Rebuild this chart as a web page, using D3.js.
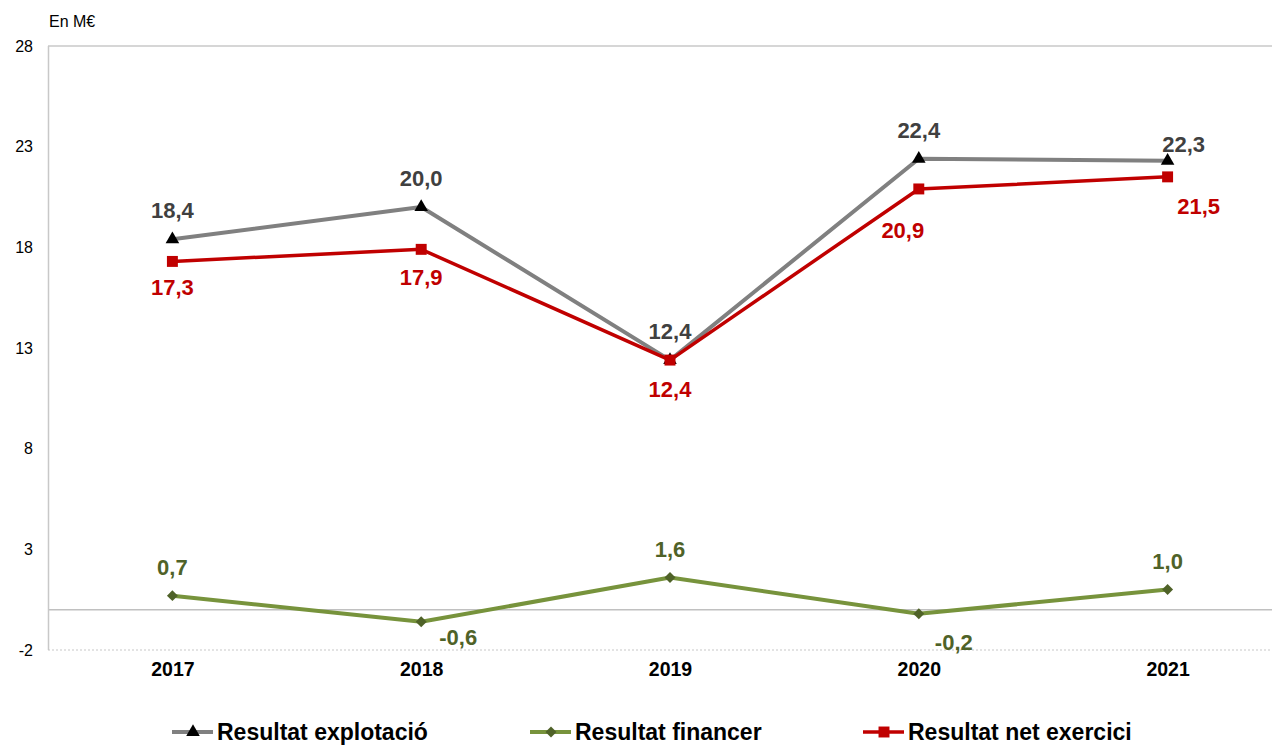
<!DOCTYPE html>
<html><head><meta charset="utf-8">
<script src="https://cdn.jsdelivr.net/npm/d3@7"></script>
<style>html,body{margin:0;padding:0;background:#fff;overflow:hidden}</style>
</head><body>
<svg id="c" width="1272" height="745"></svg>
<script>
const years = ["2017","2018","2019","2020","2021"];
const explotacio = [18.4, 20.0, 12.4, 22.4, 22.3];
const financer = [0.7, -0.6, 1.6, -0.2, 1.0];
const netExercici = [17.3, 17.9, 12.4, 20.9, 21.5];
const yTicks = [-2, 3, 8, 13, 18, 23, 28];
const seriesNames = ["Resultat explotació", "Resultat financer", "Resultat net exercici"];
const unitLabel = "En M€";

const svg = d3.select("#c");
const x = d3.scalePoint().domain(years).range([48, 1292]).padding(0.5);
const y = d3.scaleLinear().domain([-2, 28]).range([650, 46]);
const fmt = v => d3.format(".1f")(v).replace(".", ",").replace("\u2212", "-");
const FONT = "Liberation Sans, Arial, sans-serif";

// frame lines
svg.append("line").attr("x1", 48).attr("x2", 1272).attr("y1", y(28)).attr("y2", y(28))
  .attr("stroke", "#c8c8c8").attr("stroke-width", 1.5);
svg.append("line").attr("x1", 48).attr("x2", 1272).attr("y1", y(-2)).attr("y2", y(-2))
  .attr("stroke", "#c8c8c8").attr("stroke-width", 1.2).attr("stroke-dasharray", "2,2");
svg.append("line").attr("x1", 48).attr("x2", 1272).attr("y1", y(0)).attr("y2", y(0))
  .attr("stroke", "#c0c0c0").attr("stroke-width", 1.5);
svg.append("line").attr("x1", 48.5).attr("x2", 48.5).attr("y1", y(28)).attr("y2", y(-2))
  .attr("stroke", "#c8c8c8").attr("stroke-width", 1.5);

// y axis
const yAxis = d3.axisLeft(y).tickValues(yTicks).tickSize(0).tickPadding(0).tickFormat(d => d);
const ya = svg.append("g").attr("transform", "translate(33,0)").call(yAxis);
ya.select(".domain").remove();
ya.selectAll("text").attr("font-family", FONT).attr("font-size", 16).attr("fill", "#000");

// x axis
const xAxis = d3.axisBottom(x).tickSize(0).tickPadding(0);
const xa = svg.append("g").attr("transform", "translate(0,662)").call(xAxis);
xa.select(".domain").remove();
xa.selectAll("text").attr("font-family", FONT)
  .attr("font-size", 19.5).attr("font-weight", "bold").attr("fill", "#000");

svg.append("text").attr("x", 49).attr("y", 27).text(unitLabel)
  .attr("font-family", FONT).attr("font-size", 16).attr("fill", "#000");

const series = [
  {name: seriesNames[0], values: explotacio, line: "#808080", mark: "#000000", label: "#404040", width: 4, shape: "tri",
   off: [[0,-21],[0,-21],[0,-21],[0,-21],[16,-9]]},
  {name: seriesNames[1], values: financer, line: "#77933C", mark: "#4F6228", label: "#4F6228", width: 4, shape: "dia",
   off: [[0,-21],[37,23],[0,-21],[35,36],[0,-21]]},
  {name: seriesNames[2], values: netExercici, line: "#C00000", mark: "#C00000", label: "#C00000", width: 3.5, shape: "sq",
   off: [[0,34],[0,36],[0,37],[-16,49],[31,37]]}
];

const line = d3.line().x((d, i) => x(years[i])).y(d => y(d));
const sym = {tri: d3.symbolTriangle, dia: d3.symbolSquare, sq: d3.symbolSquare};
const symSize = {tri: 80, dia: 60, sq: 120};
const rot = s => s.shape === "dia" ? " rotate(45)" : "";

function drawSeries(s) {
  svg.append("path").datum(s.values).attr("d", line).attr("fill", "none")
    .attr("stroke", s.line).attr("stroke-width", s.width).attr("stroke-linejoin", "round");
}
function drawMarks(s) {
  svg.selectAll(null).data(s.values).enter().append("path")
    .attr("d", d3.symbol().type(sym[s.shape]).size(symSize[s.shape]))
    .attr("transform", (d, i) => `translate(${x(years[i])},${y(d)})` + rot(s))
    .attr("fill", s.mark);
  svg.selectAll(null).data(s.values).enter().append("text")
    .attr("x", (d, i) => x(years[i]) + s.off[i][0])
    .attr("y", (d, i) => y(d) + s.off[i][1])
    .attr("text-anchor", "middle")
    .attr("font-family", FONT).attr("font-size", 22).attr("font-weight", "bold")
    .attr("fill", s.label).text(d => fmt(d));
}
[series[1], series[0], series[2]].forEach(drawSeries);
[series[1], series[0], series[2]].forEach(drawMarks);

// legend
const legendX = [172, 530, 863];
series.forEach((s, i) => {
  const g = svg.append("g").attr("transform", `translate(${legendX[i]},732)`);
  g.append("line").attr("x1", 0).attr("x2", 41).attr("y1", 0).attr("y2", 0)
    .attr("stroke", s.line).attr("stroke-width", s.width);
  g.append("path").attr("d", d3.symbol().type(sym[s.shape]).size(symSize[s.shape]))
    .attr("transform", `translate(21,0)` + rot(s)).attr("fill", s.mark);
  g.append("text").attr("x", 45).attr("y", 7.5).text(s.name)
    .attr("font-family", FONT).attr("font-size", 23).attr("font-weight", "bold")
    .attr("fill", "#000");
});
</script>
</body></html>
